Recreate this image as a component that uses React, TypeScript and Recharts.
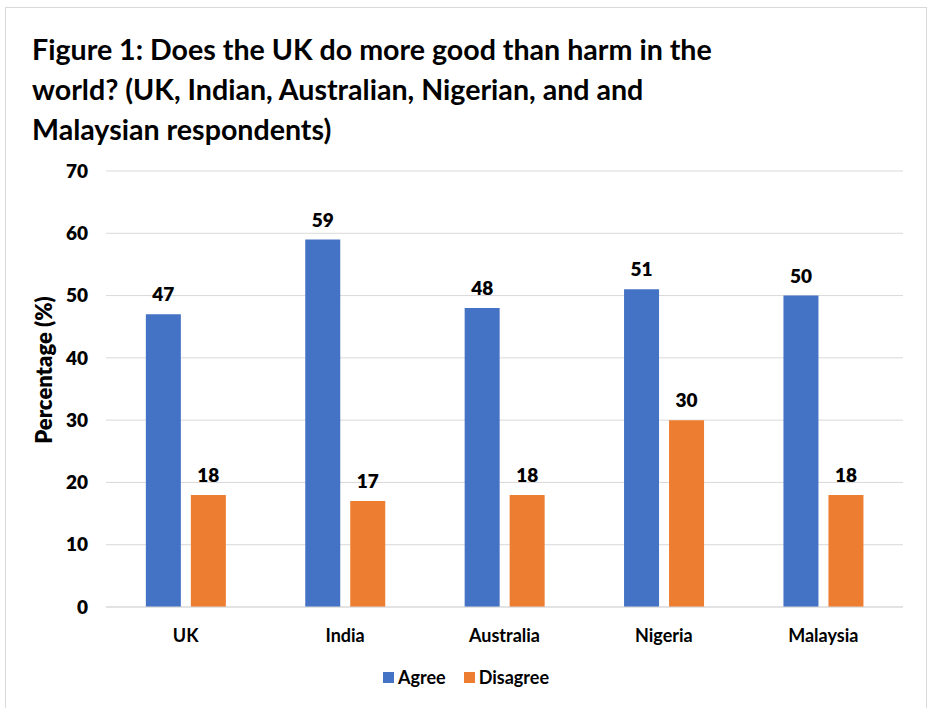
import React from 'react';
import { BarChart, Bar, XAxis, YAxis, CartesianGrid, LabelList } from 'recharts';

const countries = ['UK', 'India', 'Australia', 'Nigeria', 'Malaysia'];
const agree = [47, 59, 48, 51, 50];
const disagree = [18, 17, 18, 30, 18];
const yTicks = [0, 10, 20, 30, 40, 50, 60, 70];
const titleLines = [
  'Figure 1: Does the UK do more good than harm in the',
  'world? (UK, Indian, Australian, Nigerian, and and',
  'Malaysian respondents)',
];
const legendItems = ['Agree', 'Disagree'];

const data = countries.map((c, i) => ({ country: c, agree: agree[i], disagree: disagree[i] }));

const FONT = 'Lato, "Open Sans", sans-serif';
const BLUE = '#4472C4';
const ORANGE = '#ED7D31';
const colors = [BLUE, ORANGE];

const labelStyle = { fontFamily: FONT, fontWeight: 800, fontSize: 19, fill: '#000' };

export default function App() {
  return (
    <div style={{ position: 'absolute', left: 0, top: 0, width: 931, height: 708, background: '#fff', overflow: 'hidden' }}>
      {/* frame */}
      <div style={{ position: 'absolute', left: 5, top: 7, width: 922, height: 720, border: '1.5px solid #d9d9d9', boxSizing: 'border-box' }} />
      <div style={{ position: 'absolute', left: 32, top: 29, fontFamily: FONT, fontWeight: 700, fontSize: 28.6, lineHeight: '40px', color: '#000' }}>
        {titleLines.map((l) => (
          <div key={l}>{l}</div>
        ))}
      </div>
      <div style={{ position: 'absolute', left: 0, top: 0 }}>
        <BarChart
          width={931}
          height={708}
          data={data}
          margin={{ top: 171, right: 28, bottom: 71, left: 0 }}
          barCategoryGap="25%"
          barGap={10}
        >
          <CartesianGrid vertical={false} stroke="#d9d9d9" />
          <XAxis
            dataKey="country"
            height={30}
            axisLine={{ stroke: '#d9d9d9' }}
            tickLine={false}
            tickMargin={16}
            tick={{ fontFamily: FONT, fontWeight: 700, fontSize: 18, fill: '#000' }}
          />
          <YAxis
            width={106}
            domain={[0, 70]}
            ticks={yTicks}
            axisLine={false}
            tickLine={false}
            tickSize={0}
            tickMargin={18}
            tick={labelStyle}
            label={{
              content: () => (
                <text
                  x={43}
                  y={370}
                  transform="rotate(-90 43 370)"
                  textAnchor="middle"
                  dominantBaseline="central"
                  style={{ fontFamily: FONT, fontWeight: 800, fontSize: 22, fill: '#000' }}
                >
                  Percentage (%)
                </text>
              ),
            }}
          />
          <Bar dataKey="agree" name="Agree" fill={BLUE} isAnimationActive={false}>
            <LabelList dataKey="agree" position="top" offset={13} style={labelStyle} />
          </Bar>
          <Bar dataKey="disagree" name="Disagree" fill={ORANGE} isAnimationActive={false}>
            <LabelList dataKey="disagree" position="top" offset={13} style={labelStyle} />
          </Bar>
        </BarChart>
      </div>
      <div
        style={{
          position: 'absolute', left: 5, width: 922, top: 665, height: 24,
          display: 'flex', justifyContent: 'center', alignItems: 'center', gap: 18,
          fontFamily: FONT, fontWeight: 700, fontSize: 18, color: '#000',
        }}
      >
        {legendItems.map((name, i) => (
          <div key={name} style={{ display: 'flex', alignItems: 'center', gap: 4 }}>
            <span style={{ width: 11, height: 11, background: colors[i], display: 'inline-block' }} />
            <span>{name}</span>
          </div>
        ))}
      </div>
    </div>
  );
}
